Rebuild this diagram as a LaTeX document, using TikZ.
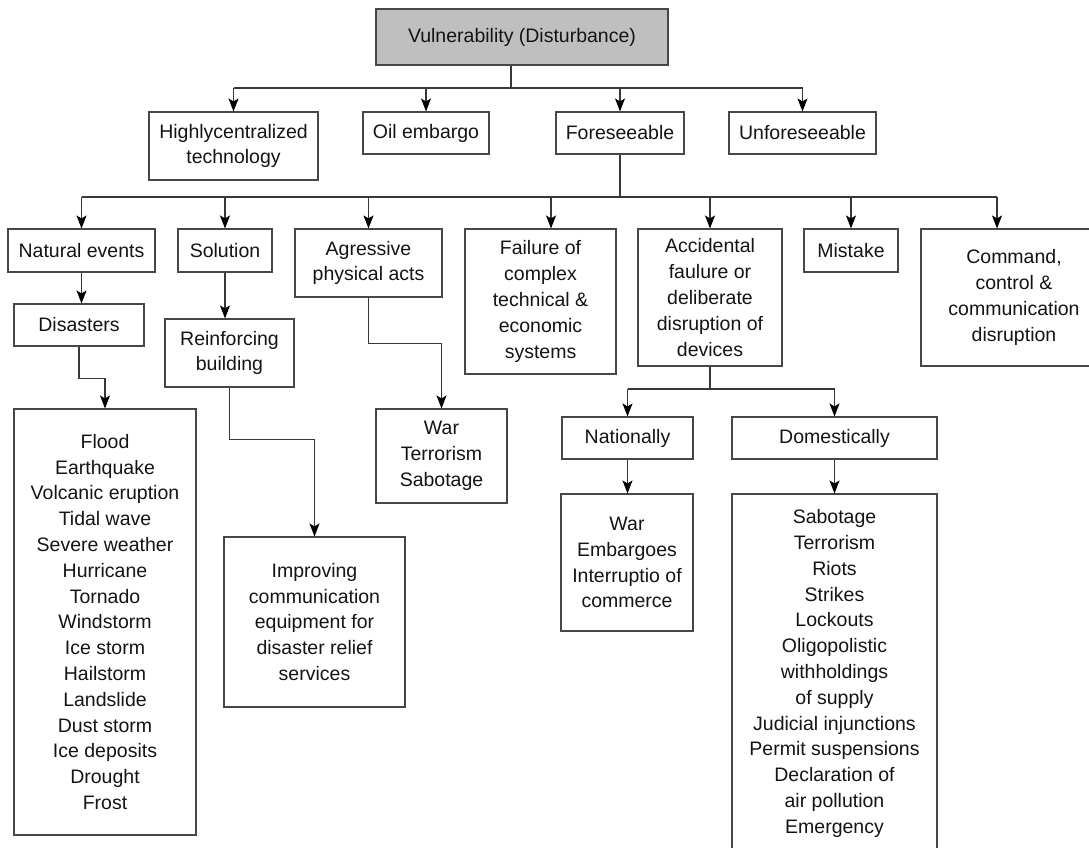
\documentclass[tikz,border=0pt]{standalone}
\usepackage{fontspec}
\setmainfont{Liberation Sans}
\usetikzlibrary{arrows.meta}
\begin{document}
\begin{tikzpicture}[x=1pt,y=-1pt,
  box/.style={draw=black!72, line width=1.1pt, fill=white, align=center,
    inner sep=0pt, text=black!92,
    font=\fontsize{19.5}{25.8}\selectfont},
  rootbox/.style={box, fill=black!25},
  link/.style={draw=black!78, line width=1.1pt},
  arr/.style={link, -{Stealth[length=13pt,width=10pt,inset=3pt,black]}}]
\useasboundingbox (0,0) rectangle (1089,848);
\clip (0,0) rectangle (1089,848);

% root and first level
\node[rootbox, minimum width=292, minimum height=56] (root) at (522,37) {Vulnerability (Disturbance)};
\node[box, minimum width=169, minimum height=68] (hi) at (233.5,146) {Highlycentralized\\technology};
\node[box, minimum width=126, minimum height=42] (oil) at (426,133) {Oil embargo};
\node[box, minimum width=128, minimum height=42] (fore) at (620,133) {Foreseeable};
\node[box, minimum width=147, minimum height=42] (unf) at (802.5,133) {Unforeseeable};

% second level
\node[box, minimum width=147, minimum height=43] (nat) at (81.5,250.5) {Natural events};
\node[box, minimum width=94, minimum height=43] (sol) at (225,250.5) {Solution};
\node[box, minimum width=147, minimum height=68] (agr) at (368.5,263) {Agressive\\physical acts};
\node[box, minimum width=151, minimum height=145] (fail) at (540.5,301.5) {Failure of\\complex\\technical \&\\economic\\systems};
\node[box, minimum width=144, minimum height=137] (acc) at (710,297.5) {Accidental\\faulure or\\deliberate\\disruption of\\devices};
\node[box, minimum width=94, minimum height=43] (mis) at (851,250.5) {Mistake};
\node[box, minimum width=186, minimum height=137] (cmd) at (1014,297.5) {Command,\\control \&\\communication\\disruption};

% lower levels
\node[box, minimum width=130, minimum height=42] (dis) at (79,325) {Disasters};
\node[box, minimum width=129, minimum height=68] (rein) at (229.5,353) {Reinforcing\\building};
\node[box, minimum width=182, minimum height=426] (flood) at (105,622) {Flood\\Earthquake\\Volcanic eruption\\Tidal wave\\Severe weather\\Hurricane\\Tornado\\Windstorm\\Ice storm\\Hailstorm\\Landslide\\Dust storm\\Ice deposits\\Drought\\Frost};
\node[box, minimum width=181, minimum height=170] (impr) at (314.5,622) {Improving\\communication\\equipment for\\disaster relief\\services};
\node[box, minimum width=131, minimum height=94] (war) at (441.5,456) {War\\Terrorism\\Sabotage};
\node[box, minimum width=131, minimum height=42] (natl) at (627.5,438) {Nationally};
\node[box, minimum width=205, minimum height=42] (dom) at (834.5,438) {Domestically};
\node[box, minimum width=132, minimum height=137] (natlist) at (627,562.5) {War\\Embargoes\\Interruptio of\\commerce};
\node[box, minimum width=205, minimum height=359] (domlist) at (834.5,673.5) {Sabotage\\Terrorism\\Riots\\Strikes\\Lockouts\\Oligopolistic\\withholdings\\of supply\\Judicial injunctions\\Permit suspensions\\Declaration of\\air pollution\\Emergency};

% junction points
\coordinate (j1) at (511,88);
\coordinate (j2) at (620,197);
\coordinate (jfail) at (551,197);
\coordinate (jcmd) at (997,197);
\coordinate (j3) at (710,389);

% root to first level
\draw[link] (root.south -| j1) -- (j1);
\draw[link] (hi.north |- j1) -- (unf.north |- j1);
\foreach \n in {hi,oil,fore,unf} \draw[arr] (\n.north |- j1) -- (\n.north);

% foreseeable to second level
\draw[link] (fore.south) -- (j2);
\draw[link] (nat.north |- j2) -- (jcmd);
\foreach \n in {nat,sol,agr,acc,mis} \draw[arr] (\n.north |- j2) -- (\n.north);
\draw[arr] (jfail) -- (jfail |- fail.north);
\draw[arr] (jcmd) -- (jcmd |- cmd.north);

% branches below
\draw[arr] (nat.south) -- (nat.south |- dis.north);
\draw[arr] (dis.south) -- ++(0,32) -| (flood.north);
\draw[arr] (sol.south) -- (sol.south |- rein.north);
\draw[arr] (rein.south) -- ++(0,52) -| (impr.north);
\draw[arr] (agr.south) -- ++(0,46) -| (war.north);
\draw[link] (acc.south) -- (j3);
\draw[link] (natl.north |- j3) -- (dom.north |- j3);
\draw[arr] (natl.north |- j3) -- (natl.north);
\draw[arr] (dom.north |- j3) -- (dom.north);
\draw[arr] (natl.south) -- (natl.south |- natlist.north);
\draw[arr] (dom.south) -- (domlist.north);
\end{tikzpicture}
\end{document}
